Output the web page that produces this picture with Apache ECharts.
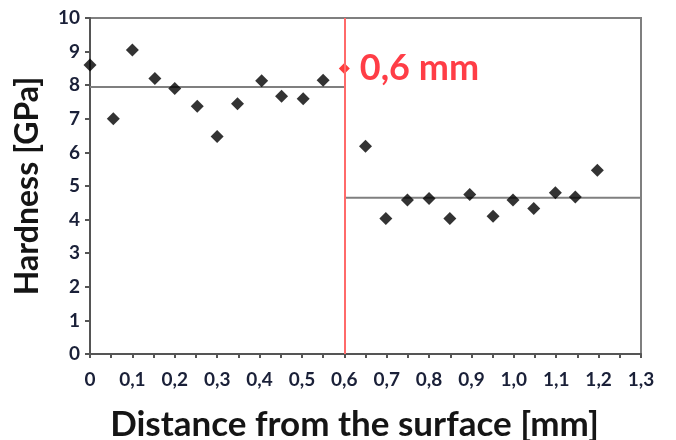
<!DOCTYPE html>
<html>
<head>
<meta charset="utf-8">
<script src="https://cdn.jsdelivr.net/npm/echarts@6/dist/echarts.min.js"></script>
<style>
  html, body { margin: 0; padding: 0; background: #fff; }
  #chart { width: 676px; height: 440px; }
</style>
</head>
<body>
<div id="chart"></div>
<script>
// hardness measurements (distance mm, hardness GPa)
const distances = [0, 0.055, 0.1, 0.153, 0.2, 0.253, 0.3, 0.348, 0.405, 0.452, 0.503, 0.55,
  0.65, 0.698, 0.749, 0.8, 0.849, 0.896, 0.951, 0.998, 1.047, 1.098, 1.145, 1.197]
const hardness = [8.6, 7.0, 9.05, 8.2, 7.9, 7.37, 6.47, 7.45, 8.13, 7.67, 7.6, 8.15,
  6.18, 4.03, 4.58, 4.63, 4.03, 4.75, 4.1, 4.58, 4.33, 4.8, 4.67, 5.47]

// average levels of each zone
const zoneLevels = [
  { from: 0, to: 0.6, value: 7.95 },
  { from: 0.6, to: 1.3, value: 4.65 }
]

// transition depth
const transitionX = 0.6
const transitionY = 8.5
const transitionLabel = "0,6 mm"

const xTickLabels = ["0", "0,1", "0,2", "0,3", "0,4", "0,5", "0,6", "0,7", "0,8", "0,9", "1,0", "1,1", "1,2", "1,3"]
const yTickLabels = ["0", "1", "2", "3", "4", "5", "6", "7", "8", "9", "10"]

const chart = echarts.init(document.getElementById("chart"), null, { renderer: "canvas" })

const font = "Lato, 'Open Sans', sans-serif"
const axisColor = "#7f7f7f"
const tickTextColor = "#1a2038"

const option = {
  animation: false,
  backgroundColor: "#ffffff",
  grid: {
    left: 90,
    right: 35,
    top: 18,
    bottom: 86,
    outerBoundsMode: "none",
    containLabel: false,
    show: true,
    borderColor: axisColor,
    borderWidth: 2
  },
  xAxis: {
    type: "value",
    min: 0,
    max: 1.3,
    interval: 0.1,
    name: "Distance from the surface [mm]",
    nameLocation: "middle",
    nameGap: 53,
    nameTextStyle: {
      fontFamily: font,
      fontWeight: "bold",
      fontSize: 35,
      color: "#151515",
      padding: [0, 22, 0, 0]
    },
    axisLine: { lineStyle: { color: "#555", width: 2 } },
    axisTick: { show: true, length: 4, lineStyle: { color: "#555", width: 2 } },
    minorTick: { show: true, splitNumber: 2, length: 4, lineStyle: { color: "#555", width: 2 } },
    splitLine: { show: false },
    minorSplitLine: { show: false },
    axisLabel: {
      margin: 16,
      fontFamily: font,
      fontWeight: "bold",
      fontSize: 19,
      color: tickTextColor,
      formatter: function (v) {
        return xTickLabels[Math.round(v * 10)]
      }
    }
  },
  yAxis: {
    type: "value",
    min: 0,
    max: 10,
    interval: 1,
    name: "Hardness [GPa]",
    nameLocation: "middle",
    nameGap: 46,
    nameTextStyle: {
      fontFamily: font,
      fontWeight: "bold",
      fontSize: 32,
      color: "#151515"
    },
    axisLine: { show: true, lineStyle: { color: "#555", width: 2 } },
    axisTick: { show: true, length: 5, lineStyle: { color: "#555", width: 2 } },
    splitLine: { show: false },
    axisLabel: {
      margin: 10,
      fontFamily: font,
      fontWeight: "bold",
      fontSize: 19,
      color: tickTextColor,
      formatter: function (v) {
        return yTickLabels[Math.round(v)]
      }
    }
  },
  series: [
    {
      type: "line",
      data: [[zoneLevels[0].from, zoneLevels[0].value], [zoneLevels[0].to, zoneLevels[0].value]],
      symbol: "none",
      lineStyle: { color: axisColor, width: 2 },
      z: 1
    },
    {
      type: "line",
      data: [[zoneLevels[1].from, zoneLevels[1].value], [zoneLevels[1].to, zoneLevels[1].value]],
      symbol: "none",
      lineStyle: { color: axisColor, width: 2 },
      z: 1
    },
    {
      type: "scatter",
      data: distances.map((d, i) => [d, hardness[i]]),
      symbol: "diamond",
      symbolSize: 13,
      itemStyle: { color: "#000000" },
      z: 3
    },
    {
      type: "scatter",
      data: [[transitionX, transitionY]],
      symbol: "diamond",
      symbolSize: 11,
      itemStyle: { color: "#ff0a0a" },
      label: {
        show: true,
        position: "right",
        distance: 10,
        formatter: transitionLabel,
        fontFamily: font,
        fontWeight: "bold",
        fontSize: 36,
        color: "#ff0d18"
      },
      markLine: {
        silent: true,
        symbol: "none",
        label: { show: false },
        lineStyle: { color: "#ff6a6a", width: 2, type: "solid" },
        data: [{ xAxis: transitionX }]
      },
      z: 4
    }
  ]
}

chart.setOption(option)
</script>
</body>
</html>
